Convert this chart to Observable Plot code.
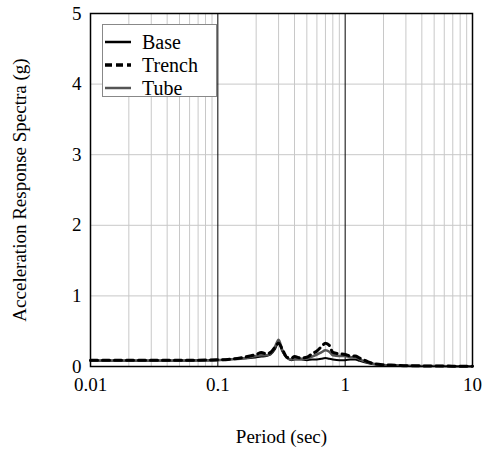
<!DOCTYPE html>
<html><head><meta charset="utf-8">
<script src="https://cdn.jsdelivr.net/npm/d3@7"></script>
<script src="https://cdn.jsdelivr.net/npm/@observablehq/plot@0.6"></script>
<style>
body{margin:0;background:#fff;font-family:"Liberation Serif","Times New Roman",Times,"DejaVu Serif",serif;}
#wrap{position:relative;width:491px;height:451px;}
#wrap svg, #wrap svg text{font-family:"Liberation Serif","Times New Roman",Times,"DejaVu Serif",serif !important;}
#legend{position:absolute;left:102px;top:24px;width:115px;height:73px;background:#fff;border:1px solid #888;box-sizing:border-box;font-size:20px;font-family:"Liberation Serif","Times New Roman",Times,"DejaVu Serif",serif;}
#legend .row{position:absolute;left:0;height:22px;display:flex;align-items:center;}
#legend svg{margin-right:9px;}
</style></head>
<body><div id="wrap"></div>
<script>
const periods = [0.01,0.02,0.03,0.05,0.07,0.1,0.12,0.15,0.18,0.2,0.22,0.24,0.26,0.28,0.3,0.32,0.35,0.38,0.4,0.45,0.5,0.55,0.6,0.65,0.7,0.75,0.8,0.9,1.0,1.1,1.2,1.3,1.5,1.7,2,2.5,3,4,5,7,10];
const base   = [0.08,0.08,0.08,0.08,0.085,0.09,0.1,0.11,0.12,0.13,0.14,0.15,0.17,0.24,0.34,0.22,0.12,0.09,0.1,0.1,0.09,0.1,0.1,0.11,0.12,0.11,0.1,0.09,0.09,0.1,0.1,0.08,0.05,0.03,0.02,0.015,0.01,0.008,0.006,0.005,0.004];
const trench = [0.09,0.09,0.09,0.09,0.09,0.095,0.1,0.12,0.15,0.17,0.2,0.18,0.2,0.27,0.33,0.25,0.13,0.12,0.14,0.12,0.13,0.18,0.22,0.28,0.33,0.3,0.2,0.18,0.17,0.15,0.15,0.12,0.07,0.04,0.025,0.018,0.012,0.009,0.007,0.005,0.004];
const tube   = [0.085,0.085,0.085,0.085,0.088,0.092,0.1,0.11,0.13,0.15,0.16,0.16,0.18,0.27,0.38,0.24,0.12,0.1,0.11,0.11,0.11,0.14,0.17,0.2,0.23,0.21,0.16,0.15,0.15,0.13,0.13,0.1,0.06,0.035,0.022,0.016,0.011,0.008,0.006,0.005,0.004];
const series = ["Base","Trench","Tube"];
const xTicks = [0.01,0.1,1,10];
const yTicks = [0,1,2,3,4,5];

const rows = s => periods.map((p,i)=>({period:p, value:{Base:base,Trench:trench,Tube:tube}[s][i]}));
const minor = [];
for (const d of [0.01,0.1,1]) for (let k=2;k<=9;k++) minor.push(d*k);

const FONT = '"Liberation Serif","Times New Roman",Times,"DejaVu Serif",serif';
const chart = Plot.plot({
  width:491, height:451,
  marginLeft:90, marginRight:19, marginTop:13, marginBottom:85,
  style:{fontFamily:FONT, fontSize:"19px", color:"#000", background:"#fff"},
  x:{type:"log", domain:[0.01,10], ticks:xTicks, tickFormat:d=>String(d), tickSize:0, tickPadding:11, label:"Period (sec)", labelArrow:"none", labelAnchor:"center", labelOffset:76},
  y:{domain:[0,5], ticks:yTicks, tickFormat:d=>String(d), tickSize:0, tickPadding:9, label:"Acceleration Response Spectra (g)", labelArrow:"none", labelAnchor:"center", labelOffset:78},
  marks:[
    Plot.ruleX(minor,{stroke:"#c8c8c8", strokeWidth:1}),
    Plot.ruleY([1,2,3,4],{stroke:"#c8c8c8", strokeWidth:1}),
    Plot.ruleX([0.1,1],{stroke:"#000", strokeWidth:1}),
    Plot.line(rows("Base"),{x:"period",y:"value",stroke:"#000",strokeWidth:2,curve:"monotone-x"}),
    Plot.line(rows("Tube"),{x:"period",y:"value",stroke:"#555",strokeWidth:2.5,curve:"monotone-x"}),
    Plot.line(rows("Trench"),{x:"period",y:"value",stroke:"#000",strokeWidth:3,strokeDasharray:"7,5",curve:"monotone-x"}),
    Plot.frame({stroke:"#000", strokeWidth:1.5})
  ]
});
const wrap = document.getElementById("wrap");
wrap.appendChild(chart);

const leg = document.createElement("div");
leg.id = "legend";
const styles = {Base:{stroke:"#000",w:2.5,dash:""},Trench:{stroke:"#000",w:3.5,dash:"7,4"},Tube:{stroke:"#555",w:2.5,dash:""}};
series.forEach((s,i)=>{
  const r = document.createElement("div");
  r.className="row"; r.style.top = (6+i*23)+"px";
  const st = styles[s];
  r.innerHTML = `<svg width="30" height="10"><line x1="2" y1="5" x2="28" y2="5" stroke="${st.stroke}" stroke-width="${st.w}" stroke-dasharray="${st.dash}"/></svg><span>${s}</span>`;
  leg.appendChild(r);
});
wrap.appendChild(leg);
</script></body></html>
